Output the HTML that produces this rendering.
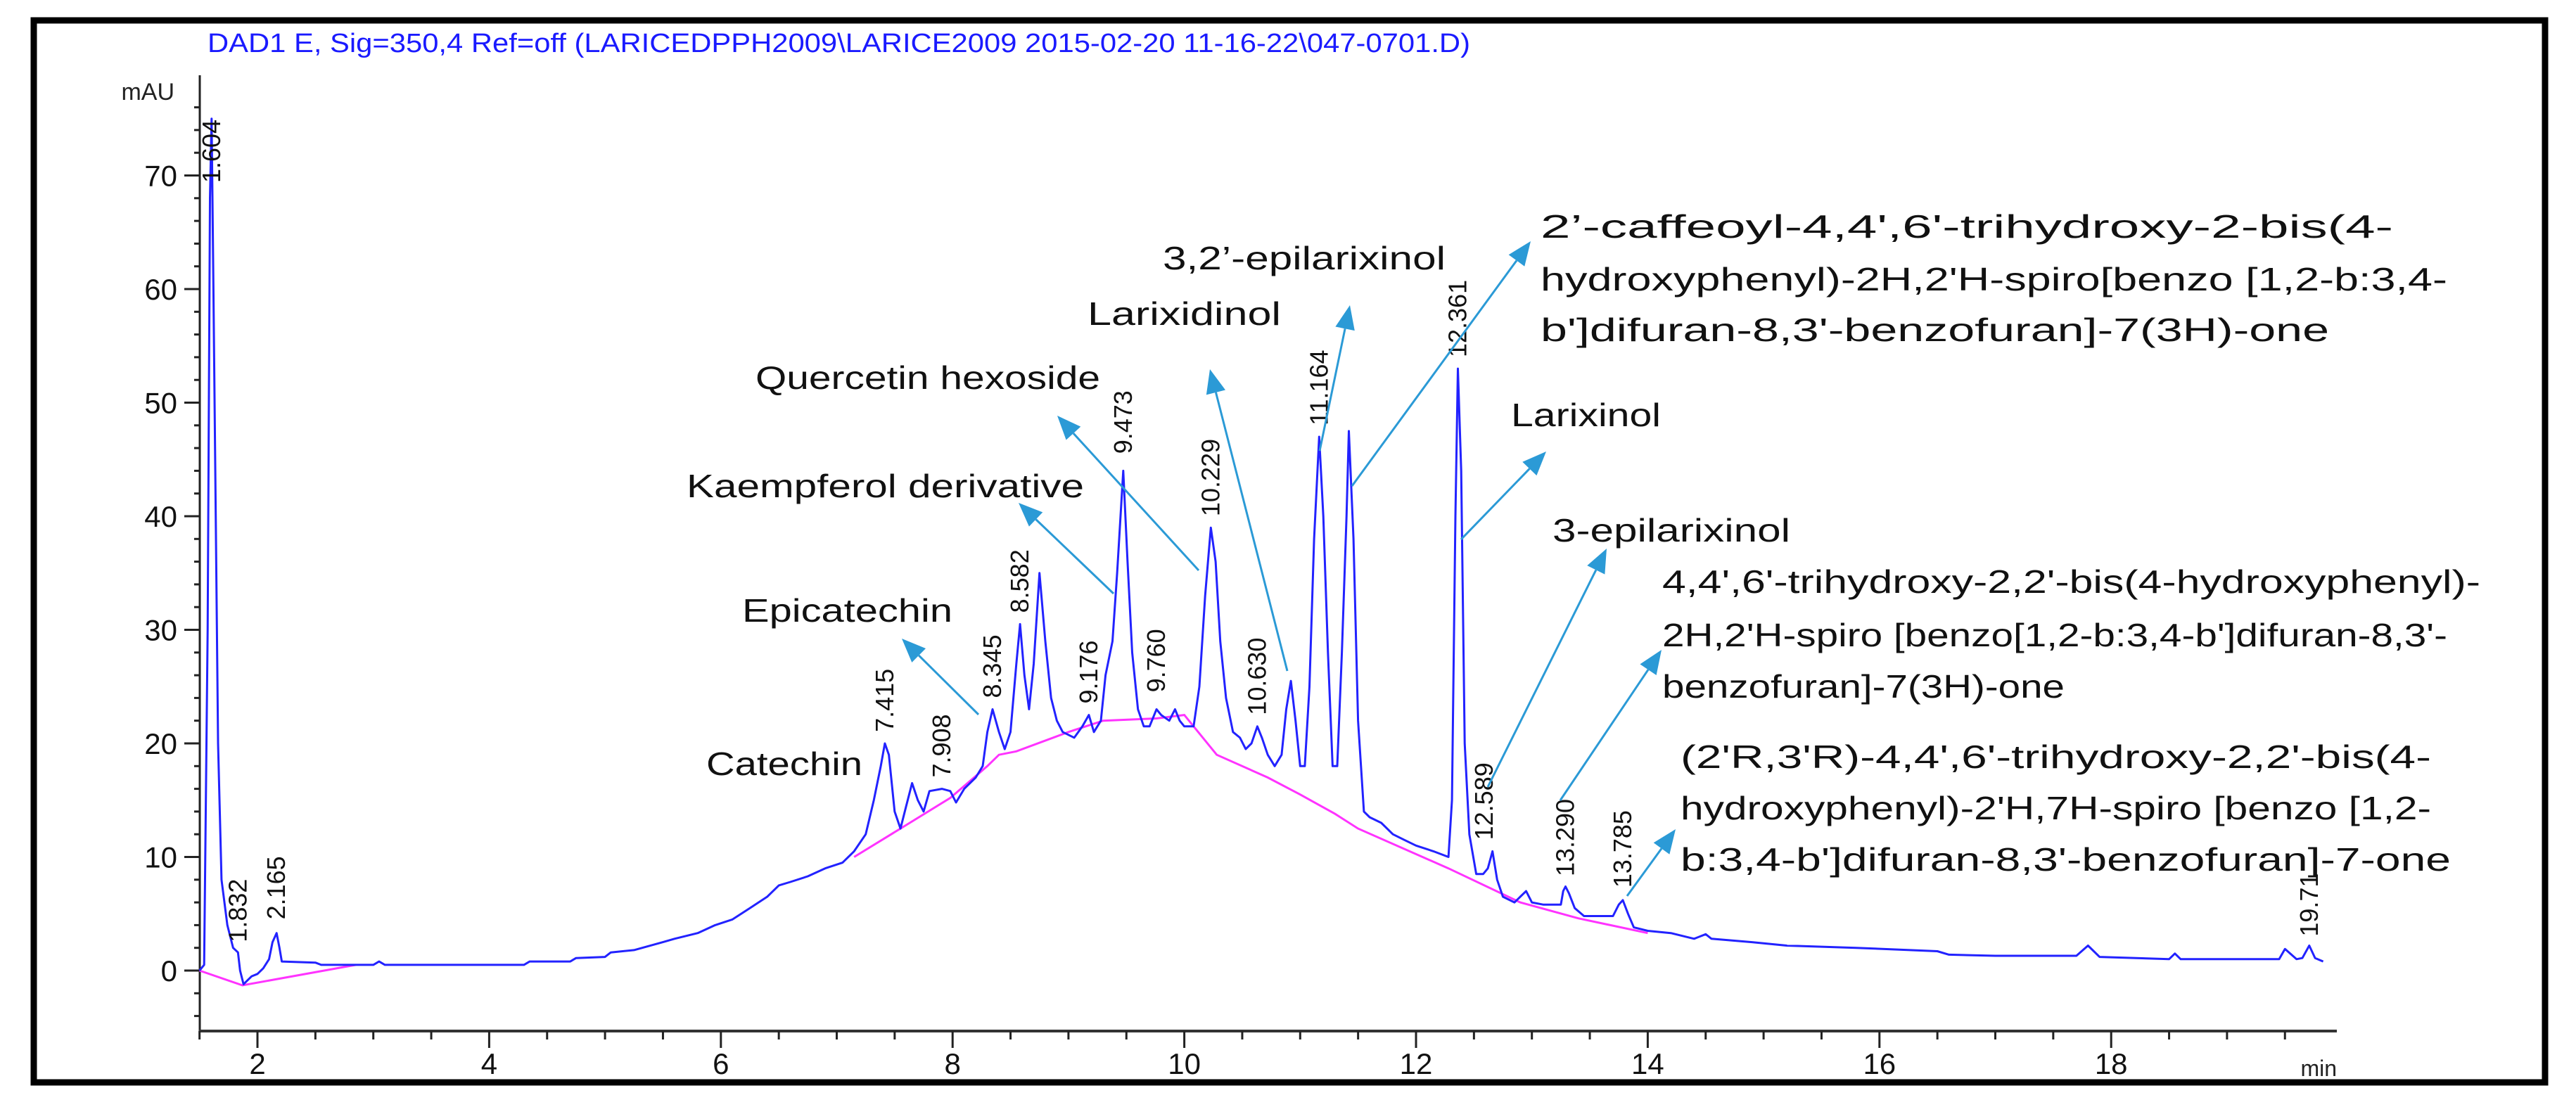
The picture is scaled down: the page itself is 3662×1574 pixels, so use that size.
<!DOCTYPE html>
<html><head><meta charset="utf-8"><style>
html,body{margin:0;padding:0;background:#fff;}
svg{display:block;}
text{font-family:"Liberation Sans",sans-serif;}
</style></head><body>
<svg id="chart" width="3662" height="1574" viewBox="0 0 3662 1574">
<rect x="48" y="29" width="3570" height="1510" fill="none" stroke="#000" stroke-width="9"/>
<text x="295" y="74" fill="#1a1aff" font-size="38" textLength="1795" lengthAdjust="spacingAndGlyphs">DAD1 E, Sig=350,4 Ref=off (LARICEDPPH2009\LARICE2009 2015-02-20 11-16-22\047-0701.D)</text>
<text x="248" y="142" fill="#222" font-size="34" text-anchor="end">mAU</text>
<text x="3322" y="1530" fill="#222" font-size="32" text-anchor="end">min</text>
<g id="axes"></g>
<g id="plot"></g>
<g id="annot"></g>
</svg>
<script>
const xTicksMajor=[2,4,6,8,10,12,14,16,18];
const yTicksMajor=[0,10,20,30,40,50,60,70];
const signalTimes=[1.50,1.54,1.57,1.59,1.604,1.62,1.64,1.66,1.69,1.74,1.79,1.832,1.85,1.88,1.95,2.0,2.05,2.1,2.13,2.165,2.19,2.21,2.5,2.55,3.0,3.05,3.1,4.3,4.35,4.7,4.75,5.0,5.05,5.25,5.5,5.6,5.8,5.95,6.1,6.25,6.4,6.5,6.6,6.75,6.9,7.05,7.15,7.25,7.32,7.38,7.415,7.45,7.5,7.55,7.6,7.65,7.7,7.75,7.8,7.908,7.98,8.03,8.1,8.2,8.26,8.3,8.345,8.4,8.45,8.5,8.55,8.582,8.62,8.66,8.7,8.75,8.8,8.85,8.9,8.95,9.05,9.12,9.176,9.22,9.28,9.32,9.38,9.42,9.473,9.51,9.55,9.6,9.65,9.7,9.76,9.8,9.87,9.92,9.96,10.0,10.08,10.13,10.18,10.229,10.27,10.31,10.36,10.42,10.48,10.53,10.58,10.63,10.67,10.72,10.78,10.84,10.88,10.92,10.96,11.0,11.04,11.08,11.12,11.164,11.2,11.24,11.28,11.32,11.36,11.4,11.42,11.46,11.5,11.55,11.6,11.7,11.8,11.9,12.0,12.15,12.28,12.31,12.34,12.361,12.39,12.42,12.46,12.52,12.58,12.62,12.66,12.7,12.75,12.85,12.9,12.95,13.0,13.1,13.25,13.27,13.29,13.32,13.37,13.45,13.6,13.7,13.75,13.785,13.83,13.88,14.0,14.2,14.4,14.5,14.55,14.9,15.2,15.8,16.5,16.6,17.0,17.7,17.8,17.9,18.5,18.55,18.6,19.45,19.5,19.6,19.65,19.71,19.76,19.83];
const signalValues=[0,0.5,30,68,75,60,40,20,8,4,2,1.6,0,-1.2,-0.5,-0.3,0.2,1,2.5,3.3,2,0.8,0.7,0.5,0.5,0.8,0.5,0.5,0.8,0.8,1.1,1.2,1.6,1.8,2.5,2.8,3.3,4,4.5,5.5,6.5,7.5,7.8,8.3,9,9.5,10.5,12,15,18,20,19,14,12.5,14.5,16.5,15,14,15.8,16,15.8,14.8,16,17,18,21,23,21,19.5,21,27,30.5,26,23,27,35,29,24,22,21,20.5,21.5,22.5,21,22,26,29,35,44,36,28,23,21.5,21.5,23,22.5,22,23,22,21.5,21.5,25,33,39,36,29,24,21,20.5,19.5,20,21.5,20.5,19,18,19,23,25.5,22,18,18,25,38,47,40,28,18,18,28,40,47.5,38,22,14,13.5,13,12,11.5,11,10.5,10,15,40,53,44,20,12,8.5,8.5,9,10.5,8,6.5,6,6.5,7,6,5.8,5.8,7,7.4,6.8,5.5,4.8,4.8,4.8,5.8,6.2,5,3.8,3.5,3.3,2.8,3.2,2.8,2.5,2.2,2,1.7,1.4,1.3,1.3,2.2,1.2,1.0,1.5,1.0,1.0,1.9,1.0,1.1,2.2,1.1,0.8];
const baselineTimes1=[1.5,1.87,2.85];
const baselineValues1=[0,-1.3,0.5];
const baselineTimes2=[7.15,7.55,7.98,8.3,8.4,8.55,9.0,9.3,9.76,10.0,10.28,10.72,11.0,11.3,11.5,12.28,12.9,13.4,14.0];
const baselineValues2=[10,12.5,15.2,18,19,19.3,21,22,22.2,22.5,19,17,15.5,13.8,12.5,9,6,4.6,3.3];
const peakLabels=["1.604","1.832","2.165","7.415","7.908","8.345","8.582","9.176","9.473","9.760","10.229","10.630","11.164","12.361","12.589","13.290","13.785","19.71"];
const peakTimes=[1.604,1.832,2.165,7.415,7.908,8.345,8.582,9.176,9.473,9.760,10.229,10.630,11.164,12.361,12.589,13.290,13.785,19.71];
const peakHeights=[79,2,4,20.5,16.5,23.5,31,23,45,24,39.5,22,47.5,53.5,11,7.8,6.8,2.5];

const NS="http://www.w3.org/2000/svg";
const X0=366,PX_MIN=164.7,Y0=1380,PX_MAU=16.15;
function xs(t){return X0+(t-2)*PX_MIN;}
function ys(v){return Y0-v*PX_MAU;}
function mk(tag,attrs,parent){const e=document.createElementNS(NS,tag);for(const k in attrs)e.setAttribute(k,attrs[k]);parent.appendChild(e);return e;}
const axes=document.getElementById('axes'),plot=document.getElementById('plot'),annot=document.getElementById('annot');

const yAxis=mk('line',{x1:284,y1:107,x2:284,y2:1466,stroke:'#222','stroke-width':3},axes);


const xAxis=mk('line',{x1:283,y1:1466,x2:3322,y2:1466,stroke:'#333','stroke-width':4},axes);


for(let v=-4;v<=76;v+=2){
  const major=yTicksMajor.includes(v);
  const tk=mk('line',{x1:major?262:276,y1:ys(v),x2:284,y2:ys(v),stroke:'#222','stroke-width':3},axes);
  
  
}
yTicksMajor.forEach(v=>{
  const t=mk('text',{x:252,y:ys(v)+15,'font-size':42,'text-anchor':'end',fill:'#111'},axes);
  t.textContent=String(v);
  
  
});
for(let m=1.5;m<=19.51;m+=0.5){
  const major=xTicksMajor.includes(m);
  const tk=mk('line',{x1:xs(m),y1:1466,x2:xs(m),y2:major?1490:1478,stroke:'#222','stroke-width':3},axes);
  
  
}
xTicksMajor.forEach(m=>{
  const t=mk('text',{x:xs(m),y:1527,'font-size':42,'text-anchor':'middle',fill:'#111'},axes);
  t.textContent=String(m);
  
  
});

function poly(ts,vs){return ts.map((t,i)=>xs(t).toFixed(1)+','+ys(vs[i]).toFixed(1)).join(' ');}
const b1=mk('polyline',{points:poly(baselineTimes1,baselineValues1),fill:'none',stroke:'#ff33ff','stroke-width':3},plot);


const b2=mk('polyline',{points:poly(baselineTimes2,baselineValues2),fill:'none',stroke:'#ff33ff','stroke-width':3},plot);


const sig=mk('polyline',{points:poly(signalTimes,signalValues),fill:'none',stroke:'#2222ff','stroke-width':3,'stroke-linejoin':'round'},plot);



peakLabels.forEach((lab,i)=>{
  const x=xs(peakTimes[i])+12,y=Math.max(ys(peakHeights[i])-8,260);
  const t=mk('text',{x:x,y:y,'font-size':36,fill:'#111',transform:`rotate(-90 ${x} ${y})`},plot);
  t.textContent=lab;
  
  
});

const labels=[
 ["Catechin",1004,1102,222],["Epicatechin",1055,884,299],["Kaempferol derivative",976,707,565],
 ["Quercetin hexoside",1074,553,490],["Larixidinol",1546,462,275],["3,2\u2019-epilarixinol",1653,383,402],
 ["2\u2019-caffeoyl-4,4',6'-trihydroxy-2-bis(4-",2190,338,1212],["hydroxyphenyl)-2H,2'H-spiro[benzo  [1,2-b:3,4-",2190,413,1289],["b']difuran-8,3'-benzofuran]-7(3H)-one",2190,485,1121],
 ["Larixinol",2148,606,213],["3-epilarixinol",2207,770,338],
 ["4,4',6'-trihydroxy-2,2'-bis(4-hydroxyphenyl)-",2363,843,1163],["2H,2'H-spiro [benzo[1,2-b:3,4-b']difuran-8,3'-",2363,919,1116],["benzofuran]-7(3H)-one",2363,992,572],
 ["(2'R,3'R)-4,4',6'-trihydroxy-2,2'-bis(4-",2389,1092,1067],["hydroxyphenyl)-2'H,7H-spiro  [benzo [1,2-",2389,1165,1067],["b:3,4-b']difuran-8,3'-benzofuran]-7-one",2389,1238,1095]
];
labels.forEach(l=>{
  const t=mk('text',{x:l[1],y:l[2],'font-size':46,fill:'#111',textLength:l[3],lengthAdjust:'spacingAndGlyphs'},annot);
  t.textContent=l[0];
  
  
});
const arrows=[[1391,1016,1282,908],[1583,844,1448,715],[1704,811,1503,591],[1830,954,1720,525],[1876,641,1919,434],[1922,691,2176,343],[2077,767,2198,642],[2115,1119,2284,780],[2218,1138,2362,924],[2313,1274,2382,1179]];
arrows.forEach(a=>{
  const g=mk('g',{},annot);
  
  
  const dx=a[2]-a[0],dy=a[3]-a[1],L=Math.hypot(dx,dy),ux=dx/L,uy=dy/L,h=34,w=14;
  const bx=a[2]-ux*h,by=a[3]-uy*h;
  mk('line',{x1:a[0],y1:a[1],x2:bx,y2:by,stroke:'#2b9ad6','stroke-width':3},g);
  mk('polygon',{points:`${a[2]},${a[3]} ${bx-uy*w},${by+ux*w} ${bx+uy*w},${by-ux*w}`,fill:'#2b9ad6'},g);
});
</script>
</body></html>
